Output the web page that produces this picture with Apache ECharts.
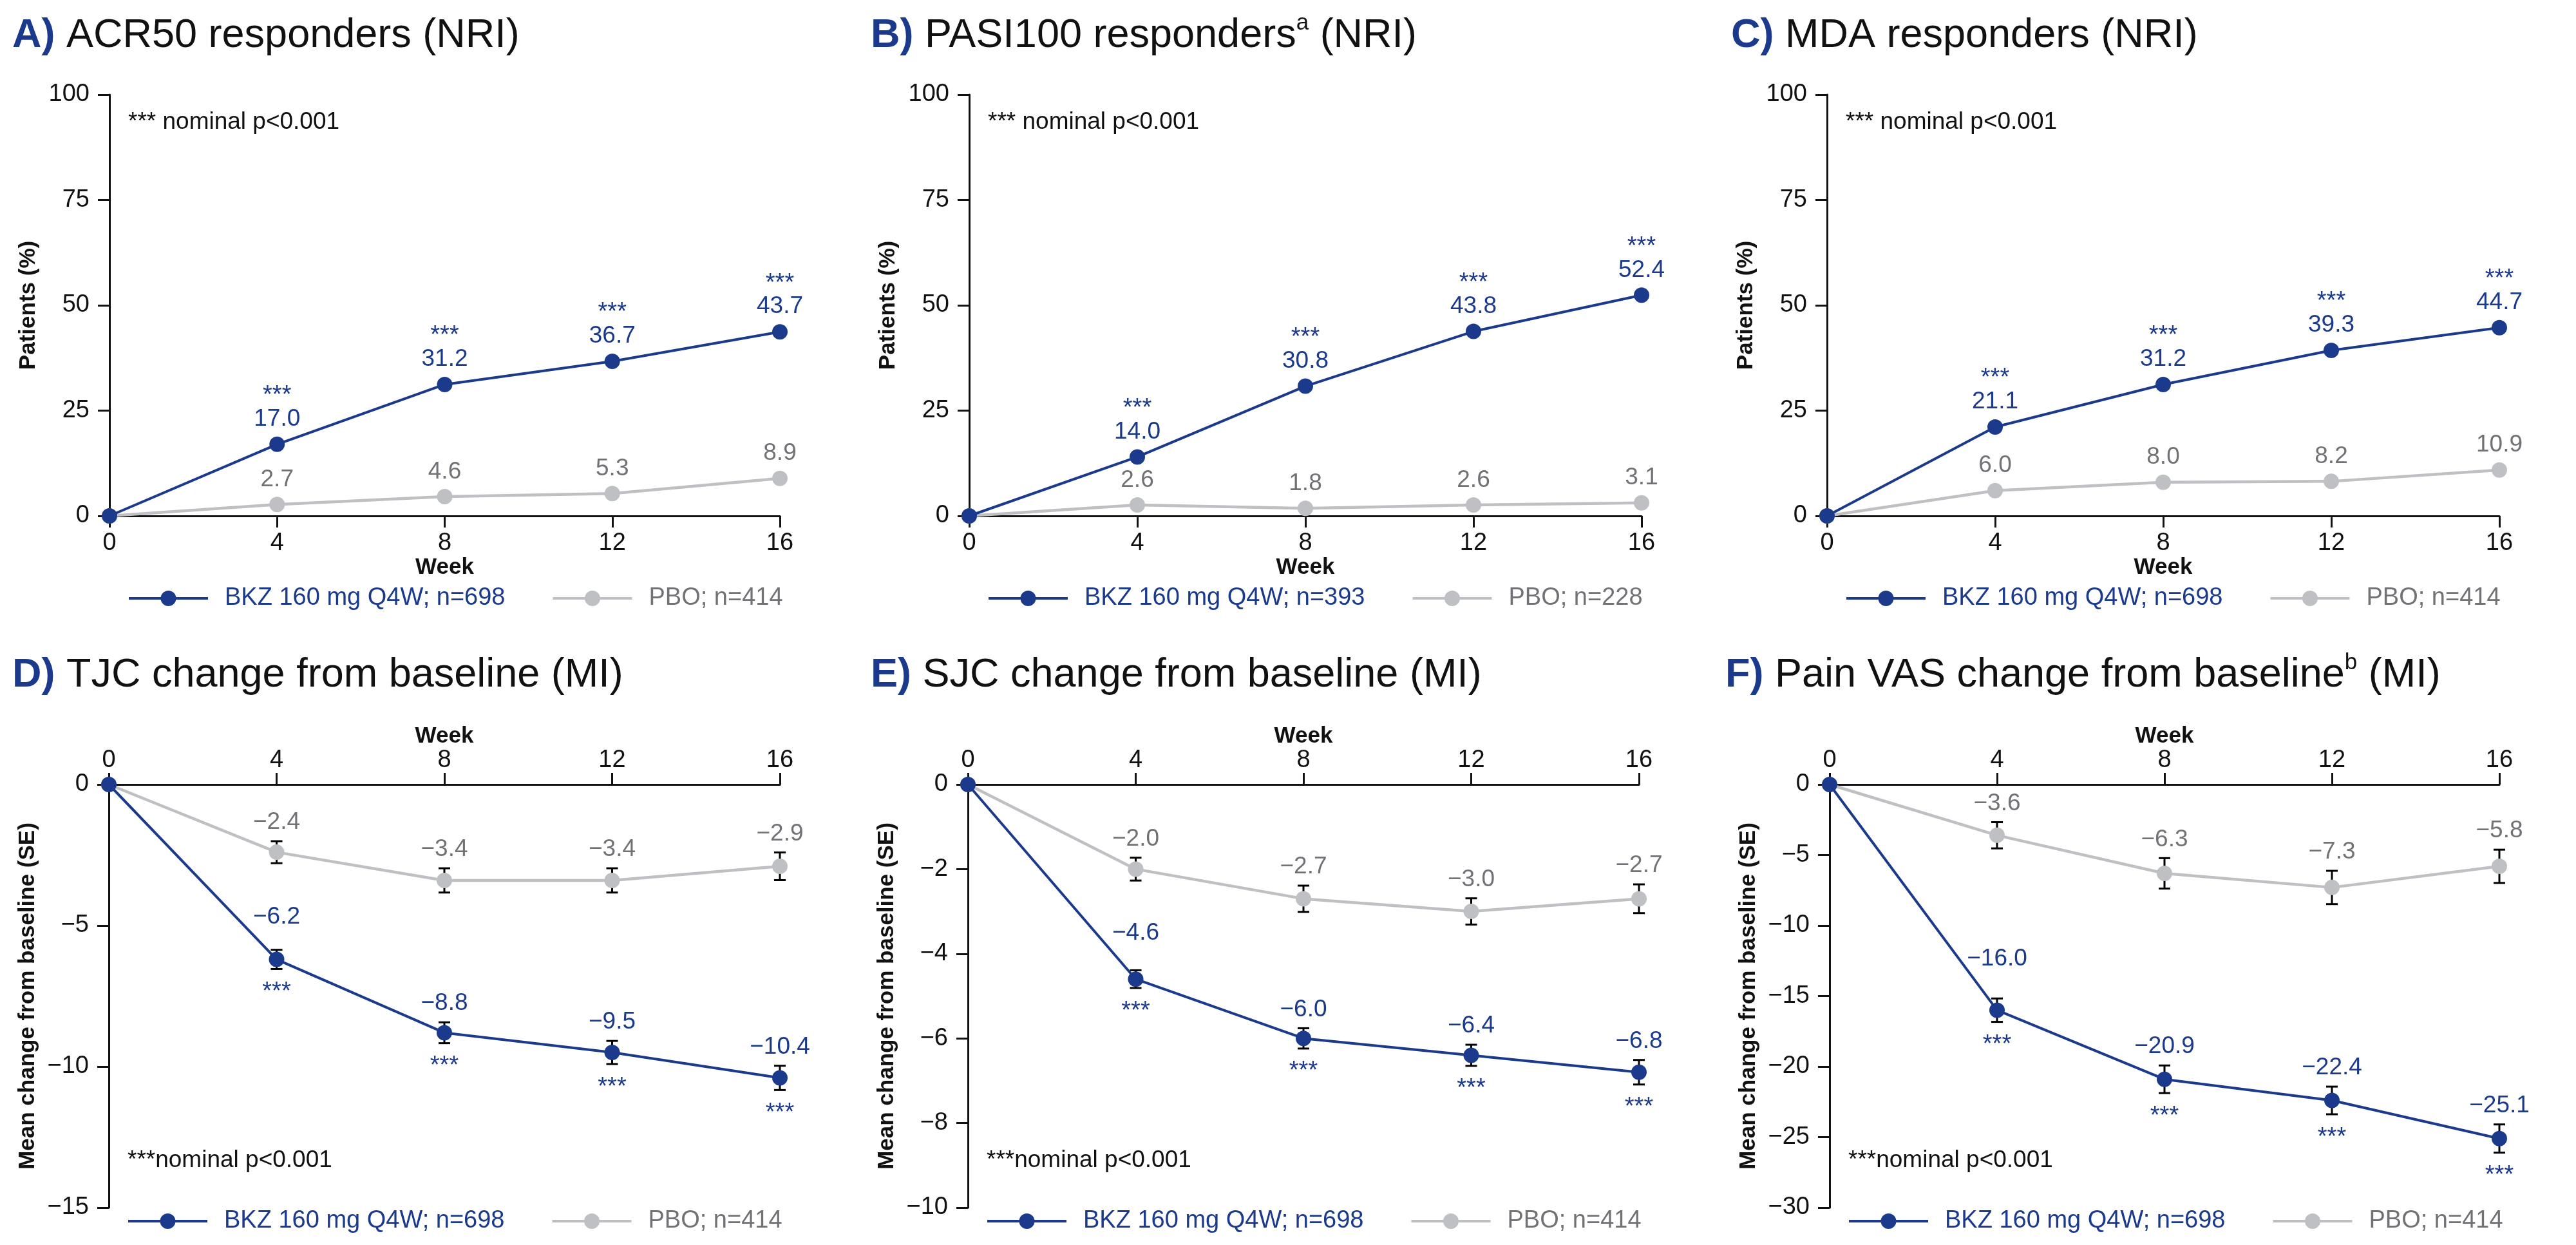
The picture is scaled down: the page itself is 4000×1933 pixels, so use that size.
<!DOCTYPE html>
<html><head><meta charset="utf-8">
<script src="https://cdn.jsdelivr.net/npm/echarts@6/dist/echarts.min.js"></script>
<style>html,body{margin:0;padding:0;background:#fff}#c{width:4000px;height:1933px}</style>
</head><body><div id="c"></div>
<script>
// ---------- data ----------
const weeks = [0, 4, 8, 12, 16];

const acrBKZ = [0, 17.0, 31.2, 36.7, 43.7];
const acrPBO = [0, 2.7, 4.6, 5.3, 8.9];
const pasiBKZ = [0, 14.0, 30.8, 43.8, 52.4];
const pasiPBO = [0, 2.6, 1.8, 2.6, 3.1];
const mdaBKZ = [0, 21.1, 31.2, 39.3, 44.7];
const mdaPBO = [0, 6.0, 8.0, 8.2, 10.9];

const tjcBKZ = [0, -6.2, -8.8, -9.5, -10.4];
const tjcBKZse = [0, 0.34, 0.37, 0.41, 0.43];
const tjcPBO = [0, -2.4, -3.4, -3.4, -2.9];
const tjcPBOse = [0, 0.39, 0.43, 0.43, 0.49];
const sjcBKZ = [0, -4.6, -6.0, -6.4, -6.8];
const sjcBKZse = [0, 0.21, 0.24, 0.25, 0.29];
const sjcPBO = [0, -2.0, -2.7, -3.0, -2.7];
const sjcPBOse = [0, 0.27, 0.31, 0.31, 0.34];
const vasBKZ = [0, -16.0, -20.9, -22.4, -25.1];
const vasBKZse = [0, 0.83, 0.98, 0.98, 1.0];
const vasPBO = [0, -3.6, -6.3, -7.3, -5.8];
const vasPBOse = [0, 0.93, 1.08, 1.18, 1.18];

const bkzName = 'BKZ 160 mg Q4W; n=698';
const pboName = 'PBO; n=414';
const bkzNameB = 'BKZ 160 mg Q4W; n=393';
const pboNameB = 'PBO; n=228';

const titleA = ['A)', 'ACR50 responders', '', ' (NRI)'];
const titleB = ['B)', 'PASI100 responders', 'a', ' (NRI)'];
const titleC = ['C)', 'MDA responders', '', ' (NRI)'];
const titleD = ['D)', 'TJC change from baseline', '', ' (MI)'];
const titleE = ['E)', 'SJC change from baseline', '', ' (MI)'];
const titleF = ['F)', 'Pain VAS change from baseline', 'b', ' (MI)'];

const yNameTop = 'Patients (%)';
const yNameBot = 'Mean change from baseline (SE)';
const xName = 'Week';
const noteTop = '*** nominal p<0.001';
const noteBot = '***nominal p<0.001';
const stars = '***';

// ---------- style ----------
const BLUE = '#1b3a8c';
const GRAY = '#bec0c3';
const GRAYTXT = '#707276';
const FONT = '"Liberation Sans", Arial, sans-serif';
const LEGEND_ICON = 'path://M0,10L50,10L50,14L0,14Z M73,10L123,10L123,14L73,14Z M73.5,12A12,12,0,1,1,49.5,12A12,12,0,1,1,73.5,12Z';

const fmt = v => (v < 0 ? '\u2212' + Math.abs(v).toFixed(1) : v.toFixed(1));
const fmtTick = v => (v < 0 ? '\u2212' + Math.abs(v) : String(v));

const panels = [
  {t: titleA, bkz: acrBKZ, pbo: acrPBO, names: [bkzName, pboName], row: 0, left: 170, width: 1041, titleX: 19, ymin: 0, ymax: 100, yint: 25},
  {t: titleB, bkz: pasiBKZ, pbo: pasiPBO, names: [bkzNameB, pboNameB], row: 0, left: 1505, width: 1044, titleX: 1352, ymin: 0, ymax: 100, yint: 25},
  {t: titleC, bkz: mdaBKZ, pbo: mdaPBO, names: [bkzName, pboName], row: 0, left: 2837, width: 1044, titleX: 2688, ymin: 0, ymax: 100, yint: 25},
  {t: titleD, bkz: tjcBKZ, pbo: tjcPBO, bse: tjcBKZse, pse: tjcPBOse, names: [bkzName, pboName], row: 1, left: 169, width: 1042, titleX: 19, ymin: -15, ymax: 0, yint: 5},
  {t: titleE, bkz: sjcBKZ, pbo: sjcPBO, bse: sjcBKZse, pse: sjcPBOse, names: [bkzName, pboName], row: 1, left: 1503, width: 1042, titleX: 1352, ymin: -10, ymax: 0, yint: 2},
  {t: titleF, bkz: vasBKZ, pbo: vasPBO, bse: vasBKZse, pse: vasPBOse, names: [bkzName, pboName], row: 1, left: 2841, width: 1040, titleX: 2679, ymin: -30, ymax: 0, yint: 5}
];

const rowTop = [147, 1218];
const rowH = [654, 657];
const titleTop = [19, 1012];
const legendTop = [910, 1877];
const noteY = [191, 1803];

function errRender(color, withStars, vals) {
  return function (params, api) {
    const x = api.value(0), v = api.value(1), se = api.value(2);
    if (x === 0) return null;
    const pc = api.coord([x, v]);
    const pt = api.coord([x, v + se]);
    const pb = api.coord([x, v - se]);
    // keep the value label clear of the incoming line segment
    const k = params.dataIndex;
    const prev = api.coord([weeks[k - 1], vals[k - 1]]);
    const slope = (pc[1] - prev[1]) / (pc[0] - prev[0]);
    const halfW = 44, halfH = 18;
    const lineYAtLeft = pc[1] - slope * halfW;
    let ly = pt[1] - 29;
    if (slope > 0) ly = Math.min(ly, lineYAtLeft - halfH - 2);
    const cap = 9;
    const ls = {stroke: '#000', lineWidth: 3};
    const ch = [
      {type: 'line', shape: {x1: pt[0], y1: pt[1], x2: pb[0], y2: pb[1]}, style: ls},
      {type: 'line', shape: {x1: pt[0] - cap, y1: pt[1], x2: pt[0] + cap, y2: pt[1]}, style: ls},
      {type: 'line', shape: {x1: pb[0] - cap, y1: pb[1], x2: pb[0] + cap, y2: pb[1]}, style: ls},
      {type: 'text', x: pt[0], y: ly, style: {text: fmt(v), fill: color, fontSize: 37, fontFamily: FONT, align: 'center', verticalAlign: 'middle'}}
    ];
    if (withStars) ch.push({type: 'text', x: pb[0], y: pb[1] + 36, style: {text: stars, fill: color, fontSize: 38, fontFamily: FONT, align: 'center', verticalAlign: 'middle'}});
    return {type: 'group', children: ch};
  };
}

const option = {
  backgroundColor: '#fff',
  animation: false,
  textStyle: {fontFamily: FONT},
  title: [], grid: [], xAxis: [], yAxis: [], legend: [], series: [], graphic: []
};

panels.forEach((p, i) => {
  const r = p.row;
  let txt = '{l|' + p.t[0] + '} {t|' + p.t[1] + '}';
  if (p.t[2]) txt += '{s|' + p.t[2] + '}';
  txt += '{t|' + p.t[3] + '}';
  option.title.push({
    text: txt, left: p.titleX, top: titleTop[r], padding: 0,
    textStyle: {
      fontSize: 63, fontFamily: FONT, color: '#111', fontWeight: 'normal',
      rich: {
        l: {fontSize: 63, fontWeight: 'bold', color: BLUE, fontFamily: FONT, lineHeight: 74},
        t: {fontSize: 63, color: '#111', fontFamily: FONT, lineHeight: 74},
        s: {fontSize: 35, color: '#111', fontFamily: FONT, verticalAlign: 'top', lineHeight: 74, padding: [0, 0, 27, 0]}
      }
    }
  });
  option.grid.push({left: p.left, top: rowTop[r], width: p.width, height: rowH[r], containLabel: false});
  option.xAxis.push({
    gridIndex: i, type: 'value', min: 0, max: 16, interval: 4,
    position: r === 0 ? 'bottom' : 'top',
    name: xName, nameLocation: 'middle', nameGap: r === 0 ? 62 : 57,
    nameTextStyle: {fontSize: 35, fontWeight: 'bold', color: '#111', fontFamily: FONT},
    axisLine: {show: true, onZero: false, lineStyle: {color: '#111', width: 3}},
    axisTick: {show: true, inside: false, length: 18, lineStyle: {color: '#111', width: 3}},
    axisLabel: {fontSize: 38, color: '#111', margin: r === 0 ? 24 : 18, fontFamily: FONT},
    splitLine: {show: false}
  });
  option.yAxis.push({
    gridIndex: i, type: 'value', min: p.ymin, max: p.ymax, interval: p.yint,
    name: r === 0 ? yNameTop : yNameBot, nameLocation: 'middle', nameGap: 108, nameRotate: 90,
    nameTextStyle: {fontSize: 35, fontWeight: 'bold', color: '#111', fontFamily: FONT},
    axisLine: {show: true, onZero: false, lineStyle: {color: '#111', width: 3}},
    axisTick: {show: true, inside: false, length: 18, lineStyle: {color: '#111', width: 3}},
    axisLabel: {fontSize: 38, color: '#111', margin: 31, fontFamily: FONT, formatter: fmtTick},
    splitLine: {show: false}
  });
  option.legend.push({
    left: p.left + 30, top: legendTop[r], padding: 0, orient: 'horizontal',
    itemWidth: 123, itemHeight: 24, itemGap: 74,
    selectedMode: false,
    textStyle: {fontSize: 38, fontFamily: FONT, padding: [0, 0, 0, 21]},
    data: [
      {name: p.names[0], icon: LEGEND_ICON, itemStyle: {color: BLUE}, textStyle: {color: BLUE}},
      {name: p.names[1], icon: LEGEND_ICON, itemStyle: {color: GRAY}, textStyle: {color: GRAYTXT}}
    ]
  });

  const pboData = weeks.map((w, j) => [w, p.pbo[j]]);
  const bkzData = weeks.map((w, j) => [w, p.bkz[j]]);
  const pboSeries = {
    name: p.names[1], type: 'line', xAxisIndex: i, yAxisIndex: i, data: pboData,
    symbol: 'circle', symbolSize: 24, z: 3,
    itemStyle: {color: GRAY}, lineStyle: {color: GRAY, width: 4.5}
  };
  const bkzSeries = {
    name: p.names[0], type: 'line', xAxisIndex: i, yAxisIndex: i, data: bkzData,
    symbol: 'circle', symbolSize: 24, z: 4,
    itemStyle: {color: BLUE}, lineStyle: {color: BLUE, width: 4}
  };
  if (r === 0) {
    pboSeries.label = {
      show: true, position: 'top', distance: 8, fontSize: 37, color: GRAYTXT, fontFamily: FONT,
      formatter: q => (q.value[0] === 0 ? '' : fmt(q.value[1]))
    };
    bkzSeries.label = {
      show: true, position: 'top', distance: 6, fontFamily: FONT,
      formatter: q => (q.value[0] === 0 ? '' : '{s|' + stars + '}\n{v|' + fmt(q.value[1]) + '}'),
      rich: {
        s: {fontSize: 38, lineHeight: 30, color: BLUE, fontFamily: FONT},
        v: {fontSize: 37, lineHeight: 42, color: BLUE, fontFamily: FONT}
      }
    };
  }
  option.series.push(pboSeries, bkzSeries);
  if (r === 1) {
    option.series.push({
      name: 'pboErr' + i, type: 'custom', xAxisIndex: i, yAxisIndex: i, z: 2,
      data: weeks.map((w, j) => [w, p.pbo[j], p.pse[j]]),
      encode: {x: 0, y: 1}, renderItem: errRender(GRAYTXT, false, p.pbo)
    });
    option.series.push({
      name: 'bkzErr' + i, type: 'custom', xAxisIndex: i, yAxisIndex: i, z: 2,
      data: weeks.map((w, j) => [w, p.bkz[j], p.bse[j]]),
      encode: {x: 0, y: 1}, renderItem: errRender(BLUE, true, p.bkz)
    });
  }
  option.graphic.push({
    type: 'text', left: p.left + 29, top: noteY[r] - 20,
    style: {text: r === 0 ? noteTop : noteBot, fontSize: 37, fontFamily: FONT, fill: '#111'}
  });
});

const chart = echarts.init(document.getElementById('c'), null, {renderer: 'canvas'});
chart.setOption(option);
</script></body></html>
